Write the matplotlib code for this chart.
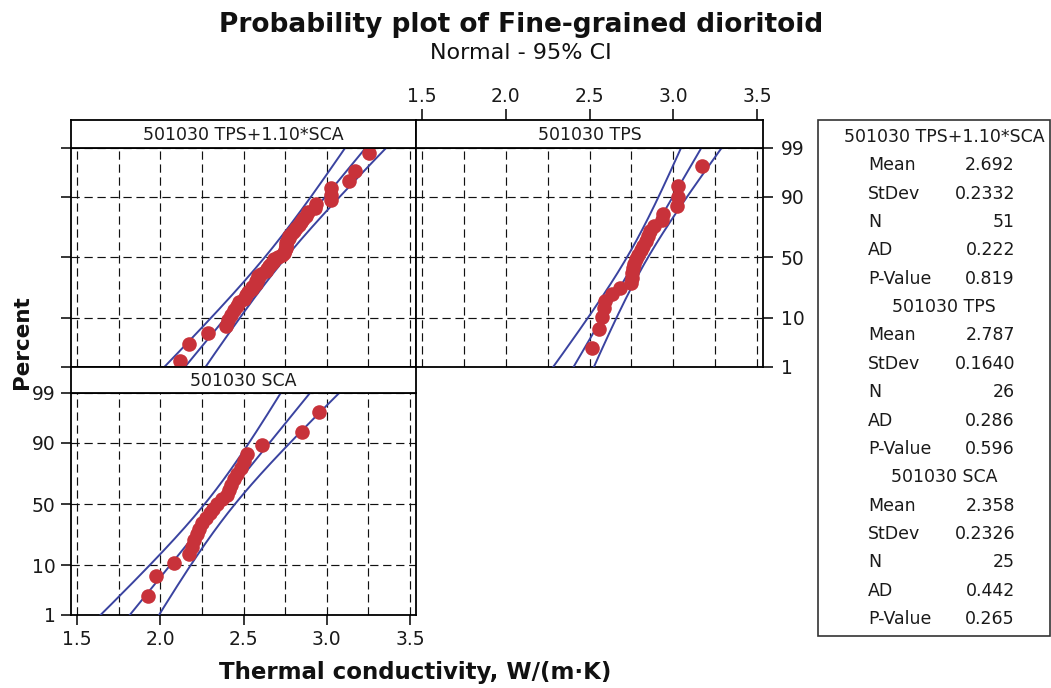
import numpy as np
import matplotlib
matplotlib.use("Agg")
import matplotlib.pyplot as plt
from matplotlib.patches import Rectangle
from statistics import NormalDist

plt.rcParams['font.family'] = ['DejaVu Sans']

# ---- data -------------------------------------------------------------
tps = [2.514, 2.554, 2.575, 2.585, 2.590, 2.635, 2.680, 2.745, 2.754, 2.755,
       2.757, 2.763, 2.775, 2.790, 2.805, 2.817, 2.836, 2.848, 2.860, 2.886,
       2.936, 2.930, 3.027, 3.027, 3.023, 3.171]
sca = [1.928, 1.975, 2.081, 2.175, 2.190, 2.205, 2.220, 2.235, 2.250, 2.275,
       2.300, 2.317, 2.340, 2.370, 2.400, 2.410, 2.425, 2.440, 2.460, 2.485,
       2.500, 2.520, 2.613, 2.849, 2.955]
sca_factor = 1.10
combined = sorted(tps + [round(sca_factor * v, 3) for v in sca])

panel_names = ["501030 TPS+1.10*SCA", "501030 TPS", "501030 SCA"]
means = [2.692, 2.787, 2.358]
stdevs = [0.2332, 0.1640, 0.2326]
counts = [51, 26, 25]
ad_stats = [0.222, 0.286, 0.442]
p_values = [0.819, 0.596, 0.265]

x_ticks = [1.5, 2.0, 2.5, 3.0, 3.5]
x_ticklabels = ["1.5", "2.0", "2.5", "3.0", "3.5"]
pct_ticks = [1, 10, 50, 90, 99]
pct_ticklabels = ["1", "10", "50", "90", "99"]

# ---- normal probability scale ----------------------------------------
_nd = NormalDist()
_ppf = np.vectorize(lambda q: _nd.inv_cdf(q), otypes=[float])
_cdf = np.vectorize(lambda z: _nd.cdf(z), otypes=[float])


def pct_forward(p):
    q = np.clip(np.asarray(p, dtype=float) / 100.0, 1e-7, 1 - 1e-7)
    return _ppf(q)


def pct_inverse(z):
    return _cdf(np.asarray(z, dtype=float)) * 100.0


# ---- layout helpers (pixel boxes on a 1051x688 canvas) -----------------
W, H = 1051, 688
fig = plt.figure(figsize=(W / 100, H / 100), dpi=100)


def rect(x0, y0, x1, y1):
    return [x0 / W, 1 - y1 / H, (x1 - x0) / W, (y1 - y0) / H]


def fx(x):
    return x / W


def fy(y):
    return 1 - y / H


XLIM = (1.464, 3.536)
RED = "#c8323a"
BLUE = "#3a43a0"
GRID_DASH = (0, (7, 4))
TICK_FS = 13.5
HEAD_FS = 12.5
TXT = '#1a1a1a'


def make_panel(box, data, mean, sd, n):
    ax = fig.add_axes(rect(*box))
    ax.set_yscale('function', functions=(pct_forward, pct_inverse))
    ax.set_xlim(*XLIM)
    ax.set_ylim(1, 99)
    ax.set_xticks(x_ticks)
    ax.set_xticks(np.arange(1.5, 3.51, 0.25), minor=True)
    ax.set_yticks(pct_ticks)
    ax.yaxis.set_minor_locator(matplotlib.ticker.NullLocator())
    ax.grid(True, which='both', axis='x', color='#111111', lw=0.85, ls=GRID_DASH)
    ax.grid(True, which='major', axis='y', color='#111111', lw=0.85, ls=GRID_DASH)
    ax.set_axisbelow(True)
    for s in ax.spines.values():
        s.set_linewidth(1.3)
    ax.tick_params(which='minor', length=0)
    ax.tick_params(which='major', direction='out', length=7, width=1.1,
                   labelsize=TICK_FS, labelcolor=TXT, bottom=False, left=False,
                   labelbottom=False, labelleft=False)

    # fitted line and 95% confidence band
    pgrid = np.linspace(0.3, 99.7, 400)
    z = pct_forward(pgrid)
    fit = mean + sd * z
    se = sd * np.sqrt(1.0 / n + z ** 2 / (2.0 * n))
    for xs in (fit, fit - 1.96 * se, fit + 1.96 * se):
        ax.plot(xs, pgrid, color=BLUE, lw=1.4, zorder=3)

    vals = np.sort(np.asarray(data, dtype=float))
    ranks = np.arange(1, len(vals) + 1)
    pos = (ranks - 0.3) / (len(vals) + 0.4) * 100
    ax.plot(vals, pos, 'o', color=RED, ms=10.5, mec='none', zorder=4)
    return ax


def make_header(box, label):
    hx = fig.add_axes(rect(*box))
    hx.set_xlim(*XLIM)
    hx.set_ylim(0, 1)
    hx.set_yticks([])
    hx.set_xticks([])
    for s in hx.spines.values():
        s.set_linewidth(1.3)
    hx.text(0.5, 0.47, label, transform=hx.transAxes, ha='center', va='center',
            fontsize=HEAD_FS, color=TXT)
    return hx


series = [combined, tps, sca]
panel_boxes = [(71, 147.7, 416, 366.7), (416, 147.7, 763, 366.7), (71, 393, 416, 615)]
header_boxes = [(71, 120, 416, 147.7), (416, 120, 763, 147.7), (71, 366.7, 416, 393)]

axes = []
heads = []
for i in range(3):
    axes.append(make_panel(panel_boxes[i], series[i], means[i], stdevs[i], counts[i]))
    heads.append(make_header(header_boxes[i], panel_names[i]))

ax1, ax2, ax3 = axes
# panel 1: left tick marks only
ax1.tick_params(left=True)
# panel 2: percent labels on the right, x labels above its header
ax2.tick_params(right=True, labelright=True, pad=6)
ax2.set_yticklabels(pct_ticklabels)
heads[1].set_xticks(x_ticks)
heads[1].set_xticklabels(x_ticklabels)
heads[1].xaxis.set_ticks_position('top')
heads[1].tick_params(direction='out', length=8, width=1.1, labelsize=TICK_FS,
                     labelcolor=TXT, pad=2)
# panel 3: percent labels on the left, x labels at the bottom
ax3.tick_params(left=True, labelleft=True, bottom=True, labelbottom=True, pad=4)
ax3.set_yticklabels(pct_ticklabels)
ax3.set_xticklabels(x_ticklabels)

# ---- titles and axis labels ------------------------------------------
fig.text(fx(521), fy(25), "Probability plot of Fine-grained dioritoid",
         ha='center', va='center', fontsize=19, fontweight='bold', color='#111111')
fig.text(fx(521), fy(53), "Normal - 95% CI", ha='center', va='center',
         fontsize=16, color='#111111')
fig.text(fx(22), fy(342), "Percent", rotation=90, ha='center', va='center',
         fontsize=15.5, fontweight='bold', color='#111111')
fig.text(fx(415), fy(673), "Thermal conductivity, W/(m\u00b7K)", ha='center',
         va='center', fontsize=16.5, fontweight='bold', color='#111111')

# ---- statistics box ---------------------------------------------------
fig.add_artist(Rectangle((fx(818), fy(636)), fx(1050) - fx(818), fy(120) - fy(636),
                         transform=fig.transFigure, fill=False, lw=1.2,
                         edgecolor='#333333'))
row_h = 28.35
row_y0 = 137
stat_names = ["Mean", "StDev", "N", "AD", "P-Value"]
k = 0
for i in range(3):
    fig.text(fx(944), fy(row_y0 + k * row_h), panel_names[i], ha='center',
             va='center', fontsize=HEAD_FS, color=TXT)
    k += 1
    vals = [f"{means[i]:.3f}", f"{stdevs[i]:.4f}", f"{counts[i]}",
            f"{ad_stats[i]:.3f}", f"{p_values[i]:.3f}"]
    for name, v in zip(stat_names, vals):
        y = fy(row_y0 + k * row_h)
        fig.text(fx(868), y, name, ha='left', va='center', fontsize=HEAD_FS,
                 color=TXT)
        fig.text(fx(1015), y, v, ha='right', va='center', fontsize=HEAD_FS,
                 color=TXT)
        k += 1

fig.savefig("out.png", dpi=100)
